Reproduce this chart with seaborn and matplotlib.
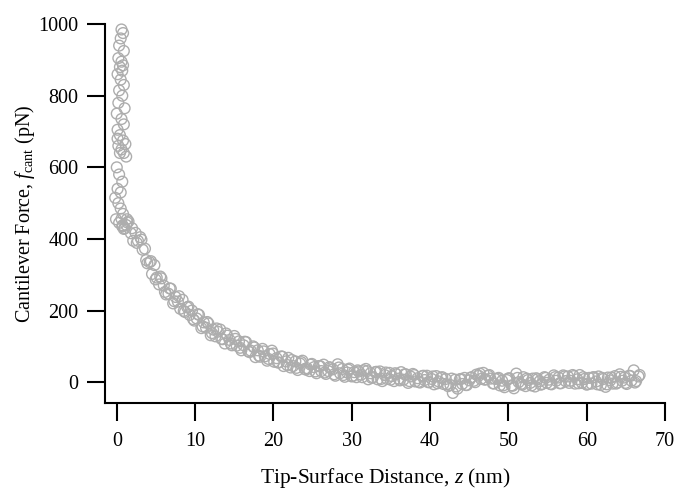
import seaborn as sns
import pandas as pd
import matplotlib.pyplot as plt

# contact region (tip pressed on surface, z ~ 0)
z_contact = [0.6, 0.8, 0.5, 0.3, 0.9, 0.2, 0.6, 0.8, 0.4, 0.7,
             0.1, 0.5, 0.9, 0.3, 0.7, 0.2, 1.0, 0.0, 0.6, 0.9,
             0.1, 0.4, 0.8, 1.1, 0.2, 0.6, 0.9, 1.2, 0.0, 0.3,
             0.7, 0.1, 0.5, -0.2, 0.2, 0.5, 0.8, -0.1, 0.3, 0.7, 1.0,
             0.4, 1.3, 0.1]
f_contact = [985, 975, 960, 940, 925, 905, 895, 885, 880, 870,
             860, 845, 830, 815, 800, 780, 765, 750, 735, 720,
             705, 690, 675, 665, 660, 650, 640, 630, 600, 580,
             560, 540, 530, 515, 500, 485, 470, 455, 445, 435, 430,
             640, 455, 680]

# approach curve, first sweep
z_approach = [
    0.6, 0.9, 1.2, 1.5, 1.8, 2.1, 2.4, 2.7, 3.0, 3.3,
    3.6, 3.9, 4.2, 4.5, 4.8, 5.1, 5.4, 5.7, 6.0, 6.3,
    6.6, 6.9, 7.2, 7.5, 7.8, 8.1, 8.4, 8.7, 9.0, 9.3,
    9.6, 9.9, 10.2, 10.5, 10.8, 11.1, 11.4, 11.7, 12.0, 12.3,
    12.6, 12.9, 13.2, 13.5, 13.8, 14.1, 14.4, 14.7, 15.0, 15.3,
    15.6, 15.9, 16.2, 16.5, 16.8, 17.1, 17.4, 17.7, 18.0, 18.3,
    18.6, 18.9, 19.2, 19.5, 19.8, 20.1, 20.4, 20.7, 21.0, 21.3,
    21.6, 21.9, 22.2, 22.5, 22.8, 23.1, 23.4, 23.7, 24.0, 24.3,
    24.6, 24.9, 25.2, 25.5, 25.8, 26.1, 26.4, 26.7, 27.0, 27.3,
    27.6, 27.9, 28.2, 28.5, 28.8, 29.1, 29.4, 29.7, 30.0, 30.3,
    30.6, 30.9, 31.2, 31.5, 31.8, 32.1, 32.4, 32.7, 33.0, 33.3,
    33.6, 33.9, 34.2, 34.5, 34.8, 35.1, 35.4, 35.7, 36.0, 36.3,
    36.6, 36.9, 37.2, 37.5, 37.8, 38.1, 38.4, 38.7, 39.0, 39.3,
    39.6, 39.9, 40.2, 40.5, 40.8, 41.1, 41.4, 41.7, 42.0, 42.3,
    42.6, 42.9, 43.2, 43.5, 43.8, 44.1, 44.4, 44.7, 45.0, 45.3,
    45.6, 45.9, 46.2, 46.5, 46.8, 47.1, 47.4, 47.7, 48.0, 48.3,
    48.6, 48.9, 49.2, 49.5, 49.8, 50.1, 50.4, 50.7, 51.0, 51.3,
    51.6, 51.9, 52.2, 52.5, 52.8, 53.1, 53.4, 53.7, 54.0, 54.3,
    54.6, 54.9, 55.2, 55.5, 55.8, 56.1, 56.4, 56.7, 57.0, 57.3,
    57.6, 57.9, 58.2, 58.5, 58.8, 59.1, 59.4, 59.7, 60.0, 60.3,
    60.6, 60.9, 61.2, 61.5, 61.8, 62.1, 62.4, 62.7, 63.0, 63.3,
    63.6, 63.9, 64.2, 64.5, 64.8, 65.1, 65.4, 65.7, 66.0, 66.3, 66.6,
]
f_approach = [
    456, 428, 439, 449, 416, 395, 417, 395, 405, 370,
    373, 332, 335, 302, 327, 292, 273, 290, 270, 245,
    247, 261, 220, 238, 225, 205, 230, 196, 209, 188,
    200, 172, 178, 188, 151, 167, 152, 164, 131, 147,
    128, 141, 147, 120, 108, 130, 118, 103, 129, 102,
    114, 89, 103, 112, 86, 88, 100, 70, 89, 71,
    93, 72, 60, 79, 88, 57, 67, 55, 72, 45,
    58, 68, 41, 45, 58, 34, 52, 60, 37, 39,
    31, 51, 42, 25, 45, 31, 49, 23, 31, 39,
    36, 18, 50, 25, 37, 15, 27, 38, 16, 28,
    14, 30, 21, 33, 37, 8, 25, 14, 28, 8,
    30, 3, 20, 9, 26, 17, 3, 22, 10, 28,
    7, 22, -2, 16, 23, 2, 11, -1, 17, 6,
    18, 0, 9, -6, 17, 2, 12, -5, 9, -11,
    -8, -30, 7, -18, 8, -5, 12, -8, 5, 14,
    4, 21, 18, 9, 26, 8, 18, 10, -3, 9,
    10, -9, 4, -14, 6, 11, -9, -17, 24, 0,
    -5, 14, -11, 6, -2, 10, -12, 8, 3, -5,
    14, -2, 7, -6, 19, 4, 13, -3, 19, 3,
    16, 4, 20, -4, 8, 20, -2, 9, -7, 12,
    -4, 14, 2, 16, -8, 9, -13, 13, 5, -4,
    17, -1, 22, 4, 13, -5, 18, 4, 33, 3, 16,
]

# approach curve, interleaved samples
z_between = [
    0.75, 1.35, 1.95, 2.55, 3.15, 3.75, 4.35, 4.95, 5.55, 6.15,
    6.75, 7.35, 7.95, 8.55, 9.15, 9.75, 10.35, 10.95, 11.55, 12.15,
    12.75, 13.35, 13.95, 14.55, 15.15, 15.75, 16.35, 16.95, 17.55, 18.15,
    18.75, 19.35, 19.95, 20.55, 21.15, 21.75, 22.35, 22.95, 23.55, 24.15,
    24.75, 25.35, 25.95, 26.55, 27.15, 27.75, 28.35, 28.95, 29.55, 30.15,
    30.75, 31.35, 31.95, 32.55, 33.15, 33.75, 34.35, 34.95, 35.55, 36.15,
    36.75, 37.35, 37.95, 38.55, 39.15, 39.75, 40.35, 40.95, 41.55, 42.15,
    42.75, 43.35, 43.95, 44.55, 45.15, 45.75, 46.35, 46.95, 47.55, 48.15,
    48.75, 49.35, 49.95, 50.55, 51.15, 51.75, 52.35, 52.95, 53.55, 54.15,
    54.75, 55.35, 55.95, 56.55, 57.15, 57.75, 58.35, 58.95, 59.55, 60.15,
    60.75, 61.35, 61.95, 62.55, 63.15, 63.75, 64.35, 64.95, 65.55, 66.15, 66.75,
]
f_between = [
    438, 446, 430, 389, 398, 341, 338, 287, 295, 252,
    262, 226, 240, 199, 211, 176, 190, 156, 168, 137,
    150, 121, 136, 108, 121, 96, 113, 84, 97, 74,
    86, 65, 80, 55, 71, 48, 62, 40, 56, 35,
    49, 30, 45, 27, 42, 22, 41, 20, 35, 18,
    33, 14, 31, 12, 29, 9, 27, 7, 25, 5,
    22, 3, 20, 1, 18, 0, 16, -3, 14, -6,
    10, -12, 9, -8, 12, 0, 24, 7, 20, -4,
    12, -9, 10, -10, 12, -7, 10, -9, 11, -7,
    12, -5, 14, -3, 16, -2, 17, -3, 14, -5,
    13, -6, 12, -6, 13, -4, 15, -2, 17, -1, 20,
]

x_ticks = [0, 10, 20, 30, 40, 50, 60, 70]
y_ticks = [0, 200, 400, 600, 800, 1000]

df = pd.DataFrame({
    'z': z_contact + z_approach + z_between,
    'f': f_contact + f_approach + f_between,
})

sns.set_style('ticks')
plt.rcParams['font.family'] = ['Liberation Serif', 'DejaVu Serif']
plt.rcParams['mathtext.fontset'] = 'custom'
plt.rcParams['mathtext.rm'] = 'Liberation Serif'
plt.rcParams['mathtext.it'] = 'Liberation Serif:italic'
for key in ['text.color', 'axes.labelcolor', 'xtick.color', 'ytick.color', 'axes.edgecolor']:
    plt.rcParams[key] = 'black'

fig = plt.figure(figsize=(6.75, 4.92), dpi=100)
ax = fig.add_axes([0.1556, 0.181, 0.8297, 0.770])

sns.scatterplot(
    data = df,
    x = 'z',
    y = 'f',
    ax = ax,
    marker = 'o',
    s = 60,
    facecolors = 'none',
    edgecolor = '#adadad',
    linewidth = 1.0,
    clip_on = False,
)

ax.set_xlim(-1.5, 70)
ax.set_ylim(-58, 1000)
ax.set_xticks(x_ticks)
ax.set_yticks(y_ticks)
ax.tick_params(direction='out', length=13, width=1.5, labelsize=14.5)
ax.tick_params(axis='x', pad=8)
ax.tick_params(axis='y', pad=6)
for side in ['left', 'bottom']:
    ax.spines[side].set_linewidth(1.5)
sns.despine(ax=ax)

ax.set_xlabel('Tip-Surface Distance, $z$ (nm)', fontsize=15.5, labelpad=11)
ax.set_ylabel('Cantilever Force, $f_{\\mathrm{cant}}$ (pN)', fontsize=14.5, labelpad=1)

fig.savefig('out.png', dpi=100)
